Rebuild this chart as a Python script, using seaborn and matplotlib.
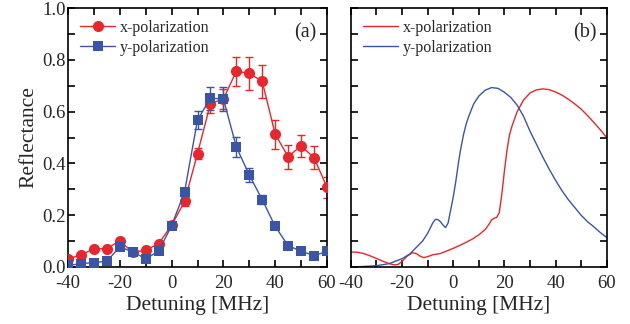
import numpy as np
import pandas as pd
import matplotlib
matplotlib.use("Agg")
import matplotlib.pyplot as plt
import seaborn as sns
from matplotlib.ticker import MultipleLocator, FormatStrFormatter

# ---- data: panel (a) measured reflectance ----
detuning = [-40, -35, -30, -25, -20, -15, -10, -5, 0, 5, 10, 15, 20, 25, 30, 35, 40, 45, 50, 55, 60]
x_pol = [0.031, 0.047, 0.070, 0.071, 0.101, 0.056, 0.065, 0.090, 0.161, 0.253, 0.438, 0.631,
         0.649, 0.756, 0.748, 0.717, 0.513, 0.426, 0.468, 0.422, 0.308]
x_err = [0.008, 0.008, 0.008, 0.008, 0.012, 0.008, 0.008, 0.008, 0.008, 0.018, 0.022, 0.035,
         0.04, 0.056, 0.063, 0.065, 0.056, 0.047, 0.042, 0.045, 0.040]
y_pol = [0.006, 0.013, 0.017, 0.022, 0.078, 0.058, 0.032, 0.061, 0.160, 0.290, 0.568, 0.652,
         0.649, 0.464, 0.355, 0.260, 0.157, 0.082, 0.061, 0.044, 0.060]
y_err = [0.006, 0.006, 0.006, 0.006, 0.008, 0.006, 0.006, 0.006, 0.008, 0.015, 0.035, 0.045,
         0.045, 0.038, 0.026, 0.018, 0.008, 0.008, 0.006, 0.006, 0.006]

# ---- data: panel (b) calculated reflectance ----
calc_x_det = [-40, -37.5, -35, -32.5, -30, -27.5, -25, -23, -21.5, -20, -18, -16, -14.5, -13, -11.5,
              -10, -8, -5, -2.5, 0, 2.5, 5, 7.5, 10, 12.5, 14, 15, 16, 17, 18, 19, 20, 21, 22, 23,
              25, 27.5, 30, 32.5, 35, 37.5, 40, 42.5, 45, 47.5, 50, 52.5, 55, 57.5, 60]
calc_x = [0.058, 0.057, 0.052, 0.043, 0.033, 0.022, 0.013, 0.008, 0.010, 0.022, 0.042, 0.055, 0.052,
          0.042, 0.036, 0.040, 0.047, 0.052, 0.062, 0.072, 0.083, 0.095, 0.108, 0.124, 0.145, 0.165,
          0.182, 0.188, 0.192, 0.210, 0.280, 0.370, 0.450, 0.510, 0.545, 0.600, 0.645, 0.672, 0.684,
          0.688, 0.685, 0.676, 0.664, 0.648, 0.630, 0.610, 0.585, 0.558, 0.530, 0.500]
calc_y_det = [-40, -35, -30, -25, -20, -17, -15, -12, -10, -8, -7, -6, -5, -4, -3, -2, -1, 0, 1, 2,
              3, 4, 5, 6, 8, 10, 12.5, 15, 17.5, 20, 22.5, 25, 27.5, 30, 32.5, 35, 37.5, 40, 42.5,
              45, 47.5, 50, 52.5, 55, 57.5, 60]
calc_y = [0.000, 0.002, 0.005, 0.013, 0.032, 0.050, 0.070, 0.100, 0.130, 0.170, 0.184, 0.183, 0.175,
          0.162, 0.152, 0.170, 0.220, 0.270, 0.330, 0.400, 0.460, 0.510, 0.550, 0.580, 0.630, 0.660,
          0.683, 0.693, 0.690, 0.675, 0.655, 0.625, 0.582, 0.525, 0.475, 0.425, 0.378, 0.335, 0.295,
          0.260, 0.230, 0.200, 0.175, 0.155, 0.133, 0.114]

RED = "#e8262c"
BLUE = "#3b55a6"

sns.set_style("ticks")
plt.rcParams["font.family"] = ["Liberation Serif", "DejaVu Serif"]
plt.rcParams["axes.unicode_minus"] = False

fig = plt.figure(figsize=(6.3, 3.24), dpi=100)
axa = fig.add_axes([0.108, 0.176, 0.411, 0.799])
axb = fig.add_axes([0.557, 0.176, 0.406, 0.799])

dfa = pd.DataFrame({"det": detuning, "x": x_pol, "y": y_pol})

axa.errorbar(detuning, x_pol, yerr=x_err, fmt="none", ecolor=RED, elinewidth=1.0,
             capsize=2.6, capthick=1.0, zorder=2)
axa.errorbar(detuning, y_pol, yerr=y_err, fmt="none", ecolor=BLUE, elinewidth=1.0,
             capsize=2.6, capthick=1.0, zorder=2)
sns.lineplot(data=dfa, x="det", y="x", ax=axa, color=RED, marker="o", markersize=8,
             markeredgewidth=0, linewidth=1.0, label="x-polarization", zorder=3)
sns.lineplot(data=dfa, x="det", y="y", ax=axa, color=BLUE, marker="s", markersize=7.5,
             markeredgewidth=0, linewidth=1.0, label="y-polarization", zorder=3)

sns.lineplot(x=calc_x_det, y=calc_x, ax=axb, color=RED, linewidth=1.0, label="x-polarization")
sns.lineplot(x=calc_y_det, y=calc_y, ax=axb, color=BLUE, linewidth=1.0, label="y-polarization")

for ax, tag in [(axa, "(a)"), (axb, "(b)")]:
    ax.set_xlim(-40, 60)
    ax.set_ylim(0, 1.0)
    ax.xaxis.set_major_locator(MultipleLocator(20))
    ax.xaxis.set_minor_locator(MultipleLocator(10))
    ax.yaxis.set_major_locator(MultipleLocator(0.2))
    ax.yaxis.set_minor_locator(MultipleLocator(0.1))
    ax.tick_params(which="both", direction="in", top=True, right=True, color="black",
                   width=1.2, labelsize=13.5)
    ax.tick_params(axis="x", pad=6)
    ax.tick_params(axis="y", pad=1.5)
    ax.tick_params(which="major", length=5)
    ax.tick_params(which="minor", length=5)
    for s in ax.spines.values():
        s.set_linewidth(1.2)
        s.set_color("black")
    ax.set_xlabel("Detuning [MHz]", fontsize=15.5, labelpad=3)
    ax.text(0.96, 0.94, tag, transform=ax.transAxes, ha="right", va="top", fontsize=14.5)
    ax.legend(loc="upper left", frameon=False, fontsize=11.5, handlelength=2.2,
              handletextpad=0.3, borderaxespad=0.4, labelspacing=0.25, borderpad=0.35)

axa.set_ylabel("Reflectance", fontsize=15.5, labelpad=3)
axa.yaxis.set_major_formatter(FormatStrFormatter("%.1f"))
axb.set_ylabel("")
axb.tick_params(labelleft=False)

fig.savefig("out.png", dpi=100)
